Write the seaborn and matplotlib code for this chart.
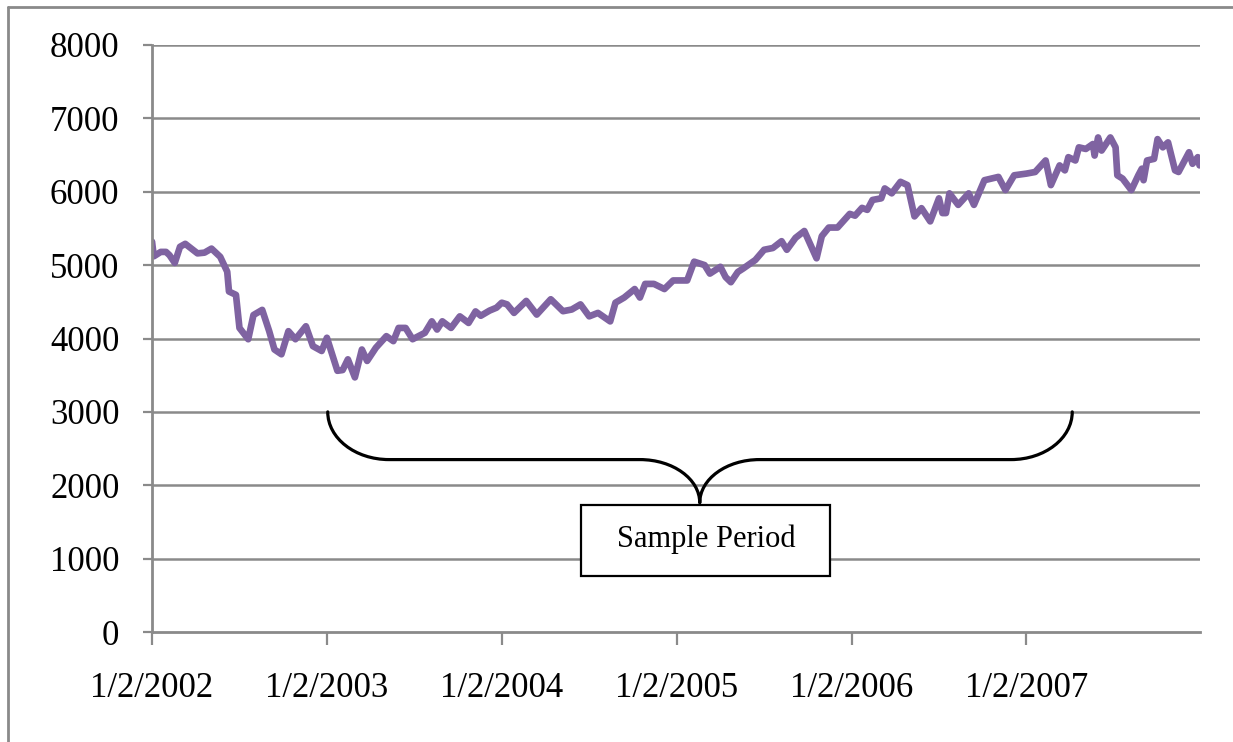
import numpy as np
import pandas as pd
import matplotlib
matplotlib.use("Agg")
import matplotlib.pyplot as plt
import matplotlib.dates as mdates
from matplotlib.path import Path
from matplotlib.patches import PathPatch, Rectangle
from matplotlib.lines import Line2D
import seaborn as sns

# index level, position given as decimal year
years = [
    2002.00, 2002.01, 2002.05, 2002.08, 2002.10, 2002.13, 2002.16, 2002.19, 2002.22, 2002.26,
    2002.30, 2002.34, 2002.39, 2002.43, 2002.44, 2002.48, 2002.50, 2002.55, 2002.58, 2002.63,
    2002.67, 2002.70, 2002.74, 2002.78, 2002.82, 2002.88, 2002.92, 2002.97, 2003.00, 2003.06,
    2003.09, 2003.12, 2003.16, 2003.20, 2003.23, 2003.28, 2003.34, 2003.38, 2003.41, 2003.45,
    2003.49, 2003.56, 2003.60, 2003.63, 2003.66, 2003.71, 2003.76, 2003.81, 2003.85, 2003.88,
    2003.93, 2003.97, 2004.00, 2004.03, 2004.07, 2004.14, 2004.20, 2004.28, 2004.35, 2004.40,
    2004.45, 2004.50, 2004.55, 2004.62, 2004.65, 2004.70, 2004.76, 2004.79, 2004.82, 2004.87,
    2004.93, 2004.98, 2005.06, 2005.10, 2005.16, 2005.19, 2005.25, 2005.28, 2005.31, 2005.35,
    2005.38, 2005.45, 2005.50, 2005.55, 2005.60, 2005.63, 2005.68, 2005.73, 2005.80, 2005.83,
    2005.87, 2005.92, 2005.99, 2006.02, 2006.06, 2006.09, 2006.12, 2006.17, 2006.19, 2006.23,
    2006.28, 2006.32, 2006.36, 2006.40, 2006.45, 2006.50, 2006.52, 2006.54, 2006.56, 2006.61,
    2006.67, 2006.70, 2006.76, 2006.80, 2006.84, 2006.88, 2006.93, 2007.00, 2007.05, 2007.11,
    2007.14, 2007.19, 2007.22, 2007.24, 2007.28, 2007.30, 2007.34, 2007.38, 2007.39, 2007.41,
    2007.43, 2007.48, 2007.51, 2007.52, 2007.55, 2007.60, 2007.64, 2007.66, 2007.67, 2007.69,
    2007.73, 2007.75, 2007.78, 2007.81, 2007.85, 2007.87, 2007.93, 2007.95, 2007.98, 2007.99,
]
values = [
    5320, 5120, 5180, 5180, 5135, 5030, 5250, 5290, 5234, 5160,
    5170, 5225, 5113, 4910, 4640, 4595, 4144, 3990, 4320, 4390,
    4100, 3850, 3785, 4100, 3990, 4167, 3896, 3830, 4010, 3560,
    3570, 3716, 3470, 3850, 3694, 3874, 4032, 3964, 4144, 4144,
    3990, 4077, 4234, 4122, 4234, 4144, 4302, 4212, 4369, 4310,
    4380, 4420, 4488, 4465, 4349, 4512, 4326, 4535, 4372, 4395,
    4465, 4302, 4349, 4233, 4488, 4558, 4674, 4558, 4744, 4744,
    4674, 4791, 4791, 5047, 5000, 4884, 4977, 4837, 4767, 4907,
    4953, 5070, 5209, 5233, 5326, 5209, 5372, 5465, 5093, 5395,
    5512, 5512, 5698, 5674, 5780, 5753, 5888, 5910, 6045, 5978,
    6135, 6090, 5664, 5776, 5596, 5910, 5709, 5709, 5978, 5821,
    5978, 5821, 6157, 6179, 6202, 6022, 6224, 6247, 6269, 6426,
    6090, 6359, 6291, 6471, 6426, 6605, 6583, 6650, 6493, 6740,
    6561, 6740, 6605, 6224, 6179, 6022, 6224, 6314, 6157, 6426,
    6448, 6717, 6605, 6673, 6291, 6269, 6538, 6381, 6471, 6359,
]
tick_dates = ["2002-01-02", "2003-01-02", "2004-01-02", "2005-01-02", "2006-01-02", "2007-01-02"]
tick_labels = ["1/2/2002", "1/2/2003", "1/2/2004", "1/2/2005", "1/2/2006", "1/2/2007"]
y_ticks = [0, 1000, 2000, 3000, 4000, 5000, 6000, 7000, 8000]

start = pd.Timestamp("2002-01-02")
dates = start + pd.to_timedelta((np.array(years) - 2002) * 365.25, unit="D")
df = pd.DataFrame({"date": dates, "value": values})

sns.set_style("white")
plt.rcParams["font.family"] = ["Liberation Serif", "DejaVu Serif"]
plt.rcParams["text.color"] = "black"

fig = plt.figure(figsize=(12.33, 7.42), dpi=100)
ax = fig.add_axes([0.1233, 0.1482, 0.8500, 0.7912])

sns.lineplot(data=df, x="date", y="value", ax=ax, color="#7f63a1", lw=4.8)

ax.set_xlim(start, pd.Timestamp("2007-12-31"))
ax.set_ylim(0, 8000)
ax.set_yticks(y_ticks)
ax.set_yticklabels([str(v) for v in y_ticks])
ax.set_xticks(pd.to_datetime(tick_dates))
ax.set_xticklabels(tick_labels)
ax.set_xlabel("")
ax.set_ylabel("")

for v in y_ticks[1:]:
    ax.axhline(v, color="#8a8a8a", lw=1.8, zorder=0)

for side in ["top", "right"]:
    ax.spines[side].set_visible(False)
for side in ["left", "bottom"]:
    ax.spines[side].set_color("#8a8a8a")
    ax.spines[side].set_linewidth(2.0)

ax.tick_params(axis="y", direction="out", length=6.5, width=1.6, color="#8a8a8a",
               labelsize=25, pad=17, left=True, labelcolor="black")
ax.tick_params(axis="x", direction="out", length=9, width=1.6, color="#8a8a8a",
               labelsize=25, pad=20, bottom=True, labelcolor="black")

# curly brace marking the sample period
x_left = mdates.date2num(pd.Timestamp("2003-01-04"))
x_mid = mdates.date2num(pd.Timestamp("2005-02-19"))
x_right = mdates.date2num(pd.Timestamp("2007-04-08"))
y_top, y_flat, y_tip = 3000, 2350, 1760
rx, rm = 128, 125
k = 0.5523
verts = [
    (x_left, y_top),
    (x_left, y_flat + (y_top - y_flat) * (1 - k)), (x_left + rx * (1 - k), y_flat), (x_left + rx, y_flat),
    (x_mid - rm, y_flat),
    (x_mid - rm * (1 - k), y_flat), (x_mid, y_tip + (y_flat - y_tip) * k), (x_mid, y_tip),
    (x_mid, y_tip + (y_flat - y_tip) * k), (x_mid + rm * (1 - k), y_flat), (x_mid + rm, y_flat),
    (x_right - rx, y_flat),
    (x_right - rx * (1 - k), y_flat), (x_right, y_flat + (y_top - y_flat) * (1 - k)), (x_right, y_top),
]
codes = [Path.MOVETO,
         Path.CURVE4, Path.CURVE4, Path.CURVE4,
         Path.LINETO,
         Path.CURVE4, Path.CURVE4, Path.CURVE4,
         Path.CURVE4, Path.CURVE4, Path.CURVE4,
         Path.LINETO,
         Path.CURVE4, Path.CURVE4, Path.CURVE4]
ax.add_patch(PathPatch(Path(verts, codes), fill=False, edgecolor="black", lw=2.3,
                       capstyle="round", joinstyle="round", zorder=4))

box_x0 = mdates.date2num(pd.Timestamp("2004-06-17"))
box_x1 = mdates.date2num(pd.Timestamp("2005-11-19"))
ax.add_patch(Rectangle((box_x0, 770), box_x1 - box_x0, 960, facecolor="white",
                       edgecolor="black", lw=1.6, zorder=5))
ax.text((box_x0 + box_x1) / 2, 1260, "Sample Period", ha="center", va="center",
        fontsize=22, color="black", zorder=6)

# chart-area border (left and top only, as cropped)
fig.add_artist(Line2D([0.0065, 0.0065], [0, 0.9906], transform=fig.transFigure,
                      color="#8a8a8a", lw=2))
fig.add_artist(Line2D([0.0065, 1.0], [0.9906, 0.9906], transform=fig.transFigure,
                      color="#8a8a8a", lw=2))

fig.savefig("out.png", dpi=100)
